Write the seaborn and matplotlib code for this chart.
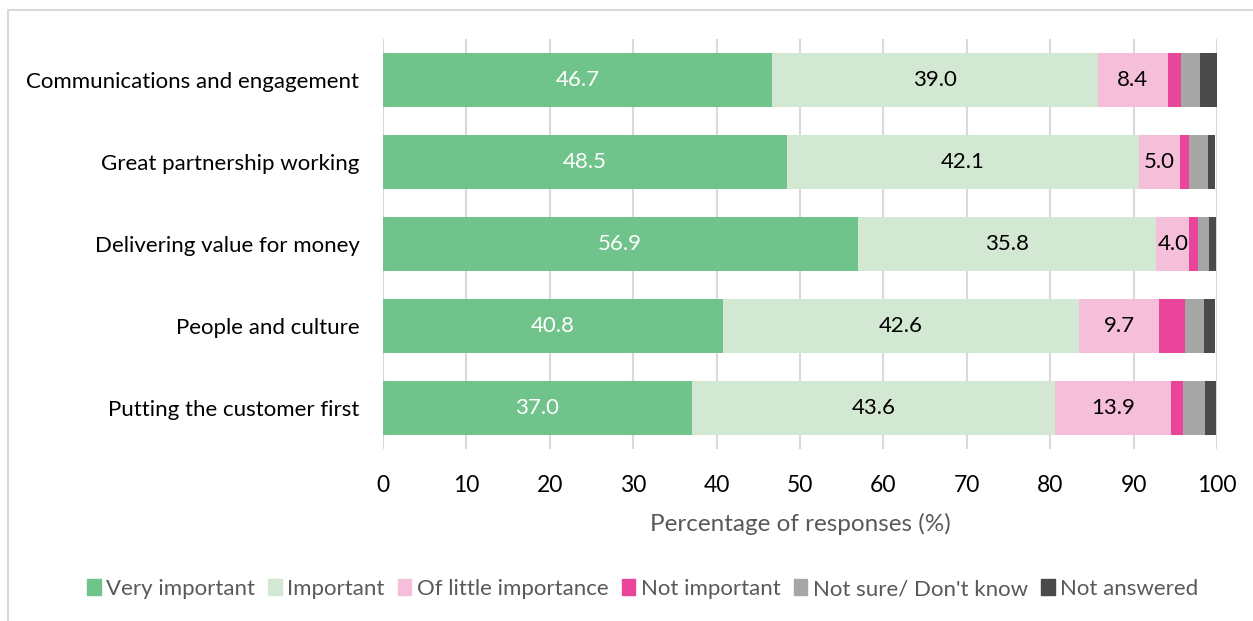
import matplotlib
matplotlib.use("Agg")
import matplotlib.pyplot as plt
import matplotlib.patches as mpatches
import seaborn as sns
import pandas as pd
import numpy as np

categories = ["Communications and engagement", "Great partnership working",
              "Delivering value for money", "People and culture",
              "Putting the customer first"]
series_names = ["Very important", "Important", "Of little importance",
                "Not important", "Not sure/ Don't know", "Not answered"]
very_important = [46.7, 48.5, 56.9, 40.8, 37.0]
important = [39.0, 42.1, 35.8, 42.6, 43.6]
little_importance = [8.4, 5.0, 4.0, 9.7, 13.9]
not_important = [1.6, 1.1, 1.0, 3.1, 1.4]
not_sure = [2.3, 2.2, 1.3, 2.2, 2.7]
not_answered = [2.0, 0.9, 0.9, 1.4, 1.3]
colors = ["#70C48B", "#D3E8D3", "#F5BFD9", "#E8459B", "#A6A6A6", "#4A4A4A"]
label_colors = ["white", "black", "black"]
xticks = [0, 10, 20, 30, 40, 50, 60, 70, 80, 90, 100]

sns.set_theme(style="white")
plt.rcParams["font.family"] = ["Lato", "DejaVu Sans"]

values = [very_important, important, little_importance, not_important, not_sure, not_answered]
df = pd.DataFrame({name: v for name, v in zip(series_names, values)}, index=categories)
cum = df.cumsum(axis=1)

fig = plt.figure(figsize=(12.53, 6.21), dpi=100)
ax = fig.add_axes([383/1253, 1-449/621, (1217-383)/1253, 410/621])

for i in range(len(series_names) - 1, -1, -1):
    name = series_names[i]
    d = pd.DataFrame({"cat": categories, "val": cum[name].values})
    sns.barplot(data=d, x="val", y="cat", orient="h", color=colors[i],
                saturation=1, width=0.66, linewidth=0, ax=ax, zorder=2)

# data labels for first three series
for i in range(3):
    name = series_names[i]
    for j, cat in enumerate(categories):
        v = df.loc[cat, name]
        start = cum.loc[cat, name] - v
        ax.text(start + v / 2, j, f"{v:.1f}", ha="center", va="center",
                color=label_colors[i], fontsize=16, zorder=3)

ax.set_xlim(0, 100)
ax.set_ylim(4.5, -0.5)
ax.set_xticks(xticks)
ax.set_xticklabels([str(t) for t in xticks], fontsize=16.5, color="black")
ax.tick_params(axis="y", labelsize=16, pad=17, length=0, labelcolor="black")
ax.tick_params(axis="x", pad=19, length=0)
ax.set_ylabel("")
ax.set_xlabel("Percentage of responses (%)", fontsize=17.5, color="#595959", labelpad=12)
ax.grid(axis="x", color="#D9D9D9", linewidth=1.5, zorder=0)
ax.set_axisbelow(True)
for s in ax.spines.values():
    s.set_visible(False)

handles = [mpatches.Patch(color=c, label=n) for c, n in zip(colors, series_names)]
fig.legend(handles=handles, loc="center", bbox_to_anchor=(0.513, 1-589/621), ncol=6,
           frameon=False, fontsize=16, handlelength=0.6, handleheight=0.75,
           handletextpad=0.25, columnspacing=0.6, labelcolor="#595959")

# outer border of the chart area
fig.patches.append(mpatches.Rectangle((8/1253, -0.1), 1.2, 1-10/621 + 0.1,
                                      transform=fig.transFigure, fill=False,
                                      edgecolor="#D9D9D9", linewidth=1.5))

fig.savefig("out.png", dpi=100)
